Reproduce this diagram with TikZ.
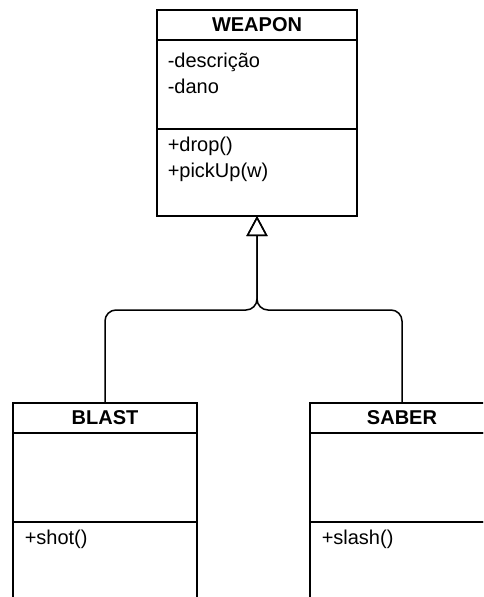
\documentclass[tikz,border=0pt]{standalone}
\usepackage{fontspec}
\setmainfont{Liberation Sans}
\usetikzlibrary{positioning,arrows.meta}
\begin{document}
\begin{tikzpicture}[x=1pt, y=1pt, line width=1.5pt,
  font=\fontsize{20}{24}\selectfont,
  classhead/.style={draw, anchor=north, outer sep=0pt, inner sep=0pt, minimum height=30pt, font=\fontsize{20}{24}\selectfont\bfseries},
  classpart/.style={draw, outer sep=0pt, inner sep=0pt, minimum height=89pt},
  member/.style={anchor=base west, inner sep=0pt},
  extends/.style={rounded corners=11pt, -{Triangle[open, length=20pt, width=21pt]}}]
\useasboundingbox (0,0) rectangle (483,-597);
\clip (0,0) rectangle (483,-597);
% superclass
\node[classhead, minimum width=200pt] (weapon) at (257,-10) {WEAPON};
\node[classpart, minimum width=200pt, below=0pt of weapon] (weaponattr) {};
\node[classpart, minimum width=200pt, minimum height=87pt, below=0pt of weaponattr] (weaponops) {};
\node[member] (descricao) at ([xshift=10pt,yshift=-27pt]weaponattr.north west) {-descrição};
\node[member] (dano) at ([xshift=10pt,yshift=-53pt]weaponattr.north west) {-dano};
\node[member] (drop) at ([xshift=10pt,yshift=-22pt]weaponops.north west) {+drop()};
\node[member] (pickup) at ([xshift=10pt,yshift=-48pt]weaponops.north west) {+pickUp(w)};
% subclasses
\node[classhead, minimum width=184pt] (blast) at (105,-403) {BLAST};
\node[classpart, minimum width=184pt, below=0pt of blast] (blastattr) {};
\node[classpart, minimum width=184pt, below=0pt of blastattr] (blastops) {};
\node[member] (shot) at ([xshift=11pt,yshift=-22pt]blastops.north west) {+shot()};
\node[classhead, minimum width=184pt] (saber) at (402,-403) {SABER};
\node[classpart, minimum width=184pt, below=0pt of saber] (saberattr) {};
\node[classpart, minimum width=184pt, below=0pt of saberattr] (saberops) {};
\node[member] (slash) at ([xshift=11pt,yshift=-22pt]saberops.north west) {+slash()};
% generalisation
\coordinate (split) at (257,-310);
\draw[extends] (blast.north) |- (split) -- (weaponops.south);
\draw[extends] (saber.north) |- (split) -- (weaponops.south);
\end{tikzpicture}
\end{document}
